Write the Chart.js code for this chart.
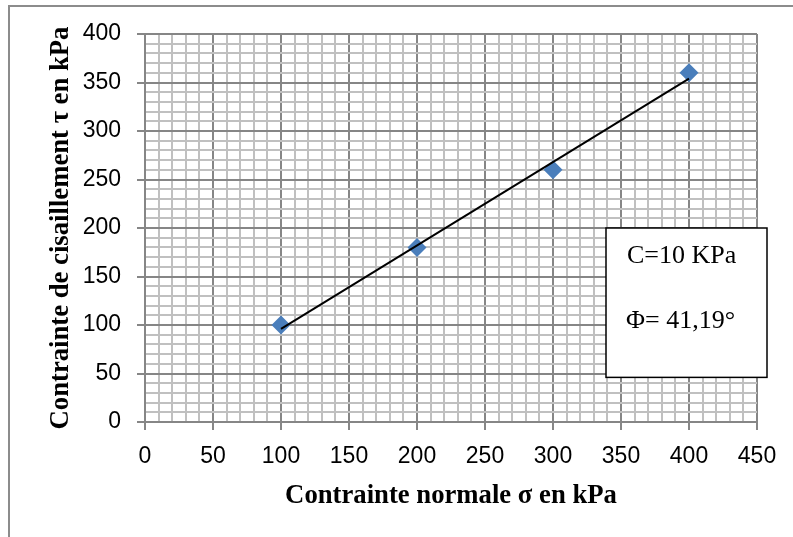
<!DOCTYPE html>
<html>
<head>
<meta charset="utf-8">
<script src="https://cdn.jsdelivr.net/npm/chart.js@4/dist/chart.umd.min.js"></script>
<style>
  html, body { margin: 0; padding: 0; background: #fff; }
  #wrap { position: relative; width: 793px; height: 537px; overflow: hidden; }
  #frame { position: absolute; left: 8px; top: 5px; width: 900px; height: 700px;
           border-top: 2px solid #8c8c8c; border-left: 2px solid #8c8c8c; }
  canvas { position: absolute; left: 0; top: 0; }
</style>
</head>
<body>
<div id="wrap">
  <div id="frame"></div>
  <canvas id="c" width="793" height="537"></canvas>
</div>
<script>
// ---- data ----
const sigmaValues = [100, 200, 300, 400];          // contrainte normale (kPa)
const tauValues   = [100, 180, 260, 360];          // contrainte de cisaillement (kPa)
const trendSigma  = [100, 400];                    // trend line ends
const trendTau    = [96, 354];
const xTickLabels = [0, 50, 100, 150, 200, 250, 300, 350, 400, 450];
const yTickLabels = [0, 50, 100, 150, 200, 250, 300, 350, 400];
const minorStep   = 10;
const boxLines    = ['C=10 KPa', 'Φ= 41,19°'];
const xTitle = 'Contrainte normale σ en kPa';
const yTitle = 'Contrainte de cisaillement τ en kPa';

const MAJOR = '#868686';
const MINOR = '#c0c0c0';
const TICKFONT = { family: '"Liberation Sans", Arial, sans-serif', size: 23 };
const TITLEFONT = { family: '"Liberation Serif", "Times New Roman", serif', size: 26.7, weight: 'bold' };

Chart.defaults.color = '#000';

function gridOpts(labels) {
  return {
    color: ctx => labels.includes(ctx.tick.value) ? MAJOR : MINOR,
    tickColor: ctx => labels.includes(ctx.tick.value) ? MAJOR : 'rgba(0,0,0,0)',
    lineWidth: 2,
    tickLength: 8,
    drawTicks: true
  };
}

const textBox = {
  id: 'textBox',
  afterDatasetsDraw(chart) {
    const { ctx, chartArea, scales } = chart;
    const left = chartArea.right - 151;
    const right = chartArea.right + 10;
    const top = scales.y.getPixelForValue(200);
    const bottom = scales.y.getPixelForValue(46);
    ctx.save();
    ctx.fillStyle = '#fff';
    ctx.fillRect(left, top, right - left, bottom - top);
    ctx.strokeStyle = '#000';
    ctx.lineWidth = 1.5;
    ctx.strokeRect(left, top, right - left, bottom - top);
    ctx.fillStyle = '#000';
    ctx.font = '26px "Liberation Serif", "Times New Roman", serif';
    ctx.textBaseline = 'alphabetic';
    ctx.textAlign = 'left';
    ctx.fillText(boxLines[0], left + 21, top + 35);
    ctx.fillText(boxLines[1], left + 20, top + 100);
    ctx.restore();
  }
};

new Chart(document.getElementById('c'), {
  type: 'scatter',
  data: {
    datasets: [
      {
        label: 'Tendance',
        data: trendSigma.map((s, i) => ({ x: s, y: trendTau[i] })),
        showLine: true,
        borderColor: '#000',
        borderWidth: 2,
        pointRadius: 0,
        order: 0
      },
      {
        label: 'Mesures',
        data: sigmaValues.map((s, i) => ({ x: s, y: tauValues[i] })),
        pointStyle: 'rectRot',
        pointRadius: 9.5,
        pointHoverRadius: 9.5,
        backgroundColor: '#4a7ebb',
        borderColor: '#4a7ebb',
        borderWidth: 0,
        order: 1
      }
    ]
  },
  options: {
    responsive: false,
    animation: false,
    events: [],
    layout: { padding: { top: 34, right: 36, bottom: 0, left: 0 } },
    plugins: { legend: { display: false }, tooltip: { enabled: false } },
    scales: {
      x: {
        type: 'linear',
        min: xTickLabels[0],
        max: xTickLabels[xTickLabels.length - 1],
        afterFit: s => { s.height = 115; },
        grid: gridOpts(xTickLabels),
        border: { color: MAJOR, width: 2 },
        ticks: {
          stepSize: minorStep,
          autoSkip: false,
          maxRotation: 0,
          padding: 13,
          font: TICKFONT,
          callback: v => xTickLabels.includes(v) ? String(v) : ''
        },
        title: { display: true, text: xTitle, font: TITLEFONT, padding: { top: 0, bottom: 25 } }
      },
      y: {
        type: 'linear',
        min: yTickLabels[0],
        max: yTickLabels[yTickLabels.length - 1],
        afterFit: s => { s.width = 145; },
        grid: gridOpts(yTickLabels),
        border: { color: MAJOR, width: 2 },
        ticks: {
          stepSize: minorStep,
          autoSkip: false,
          padding: 16,
          font: TICKFONT,
          callback: v => yTickLabels.includes(v) ? String(v) : ''
        },
        title: { display: true, text: yTitle, font: TITLEFONT, padding: { top: 45, bottom: 0 } }
      }
    }
  },
  plugins: [textBox]
});
</script>
</body>
</html>
